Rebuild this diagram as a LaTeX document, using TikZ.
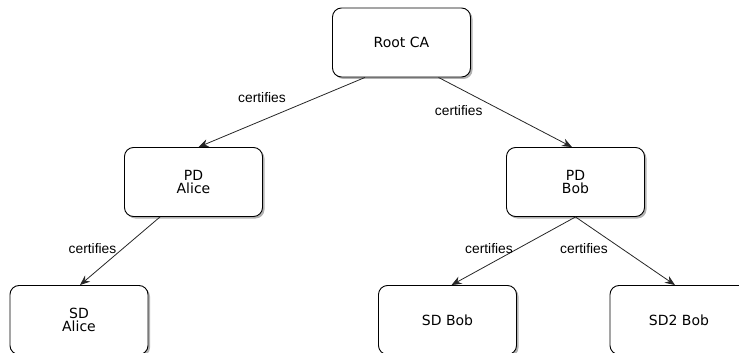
\documentclass[tikz,border=0pt]{standalone}
\usepackage{fontspec}
\setmainfont{DejaVu Sans}
\newfontfamily\labelfont{Liberation Sans}
\usetikzlibrary{arrows.meta,shadows}

\begin{document}
\begin{tikzpicture}[x=1pt,y=-1pt,
  certbox/.style={draw=black, line width=0.9pt, fill=white, rounded corners=9pt,
    minimum width=138pt, minimum height=69pt, inner sep=0pt, align=center,
    font=\fontsize{14pt}{13.5pt}\selectfont,
    drop shadow={shadow xshift=2pt, shadow yshift=-2pt, fill=black, opacity=0.3}},
  certlabel/.style={font=\labelfont\fontsize{13.8pt}{15pt}\selectfont, inner sep=1pt},
  certarrow/.style={draw=black!85, line width=0.8pt, -{Stealth[length=10pt,width=8pt]}}]

\useasboundingbox (0,0) rectangle (739,353);

% certificate hierarchy
\node[certbox] (root) at (401.5,42.5) {Root CA};
\node[certbox] (pdA)  at (193.5,182) {PD\\Alice};
\node[certbox] (pdB)  at (575.5,182) {PD\\Bob};
\node[certbox] (sdA)  at (79,320)    {SD\\Alice};
\node[certbox] (sdB)  at (447.5,320) {SD Bob};
\node[certbox] (sdB2) at (679,320)   {SD2 Bob};

% signing relations
\draw[certarrow] ([xshift=-36.5pt]root.south) -- ([xshift=5pt]pdA.north);
\draw[certarrow] ([xshift=37pt]root.south)   -- ([xshift=-3.5pt]pdB.north);
\draw[certarrow] ([xshift=-33.5pt]pdA.south) -- ([xshift=1pt]sdA.north);
\draw[certarrow] (pdB.south) -- ([xshift=4pt]sdB.north);
\draw[certarrow] (pdB.south) -- ([xshift=-4pt]sdB2.north);

% relation labels
\node[certlabel] (l1) at (262,98)    {certifies};
\node[certlabel] (l2) at (458.7,110.5) {certifies};
\node[certlabel] (l3) at (92.5,248.5) {certifies};
\node[certlabel] (l4) at (489,249)   {certifies};
\node[certlabel] (l5) at (584,249)   {certifies};

\end{tikzpicture}
\end{document}
